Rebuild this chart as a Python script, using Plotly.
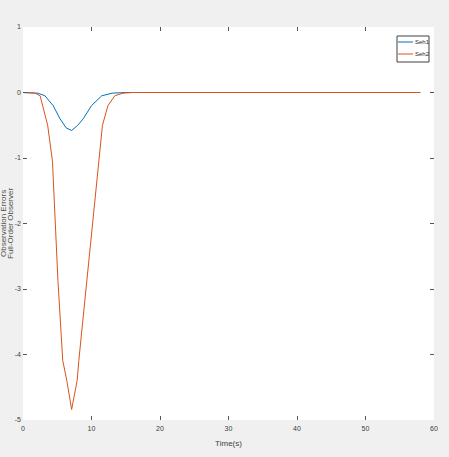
import plotly.graph_objects as go

# Data
t_seh1 = [0, 1, 2.2, 3.2, 4.4, 5.4, 6.3, 7.1, 8.0, 8.8, 10.0, 11.5, 13.0, 15.0, 58.0]
seh1 = [0, 0, -0.01, -0.05, -0.2, -0.4, -0.54, -0.58, -0.5, -0.4, -0.2, -0.05, -0.01, 0, 0]

t_seh2 = [0, 1, 1.75, 2.5, 2.9, 3.6, 4.3, 5.1, 5.8, 6.4, 7.1, 7.9, 8.15, 9.3, 11.0, 11.6, 12.4, 13.4, 14.6, 16.0, 58.0]
seh2 = [0, 0, -0.01, -0.05, -0.2, -0.5, -1.05, -2.87, -4.09, -4.4, -4.84, -4.4, -4.09, -2.87, -1.05, -0.5, -0.2, -0.05, -0.01, 0, 0]

series_names = ["Seh1", "Seh2"]
series_colors = ["#0072BD", "#D95319"]

x_ticks = [0, 10, 20, 30, 40, 50, 60]
y_ticks = [1, 0, -1, -2, -3, -4, -5]

font_family = "Liberation Sans Narrow, Liberation Sans, Arial, sans-serif"
tick_font = dict(family=font_family, size=7, color="#404040")

fig = go.Figure()
fig.add_trace(go.Scatter(x=t_seh1, y=seh1, mode="lines", name=series_names[0],
                         line=dict(color=series_colors[0], width=1), showlegend=False))
fig.add_trace(go.Scatter(x=t_seh2, y=seh2, mode="lines", name=series_names[1],
                         line=dict(color=series_colors[1], width=1), showlegend=False))

# Plot area in pixels: x 23..434, y 27..420
PX0, PX1, PY0, PY1 = 23, 434, 27, 420
def px(x):
    return (x - PX0) / (PX1 - PX0)
def py(y):
    return 1 - (y - PY0) / (PY1 - PY0)

# Compact MATLAB-style legend
shapes = [dict(type="rect", xref="paper", yref="paper",
               x0=px(397), x1=px(429), y0=py(62), y1=py(36),
               line=dict(color="#404040", width=1), fillcolor="white", layer="above")]
annotations = []
for i, (nm, col) in enumerate(zip(series_names, series_colors)):
    yy = 42 + i * 12
    shapes.append(dict(type="line", xref="paper", yref="paper",
                       x0=px(398), x1=px(413), y0=py(yy), y1=py(yy),
                       line=dict(color=col, width=1), layer="above"))
    annotations.append(dict(text=nm, xref="paper", yref="paper", x=px(413), y=py(yy),
                            xanchor="left", yanchor="middle", showarrow=False,
                            font=dict(family=font_family, size=6, color="#262626")))

# Y axis title, two lines
ytitle_font = dict(family="Liberation Sans, Arial, sans-serif", size=8, color="#505050")
annotations.append(dict(text="Observation Errors", xref="paper", yref="paper",
                        x=px(3.5), y=0.5, textangle=-90, showarrow=False,
                        xanchor="center", yanchor="middle", font=ytitle_font))
annotations.append(dict(text="Full-Order Observer", xref="paper", yref="paper",
                        x=px(10.5), y=0.5, textangle=-90, showarrow=False,
                        xanchor="center", yanchor="middle", font=ytitle_font))

fig.update_layout(
    width=449, height=457,
    margin=dict(l=PX0, r=449 - PX1, t=PY0, b=457 - PY1),
    paper_bgcolor="#f0f0f0",
    plot_bgcolor="white",
    showlegend=False,
    shapes=shapes,
    annotations=annotations,
    xaxis=dict(range=[0, 60], tickvals=x_ticks, ticktext=[str(v) for v in x_ticks],
               ticks="inside", ticklen=4, tickcolor="#555555", mirror="ticks",
               showgrid=False, zeroline=False, showline=False, automargin=False,
               tickfont=tick_font, ticklabelstandoff=3,
               title=dict(text="Time(s)", font=dict(family=font_family, size=8, color="#404040"),
                          standoff=9)),
    yaxis=dict(range=[-5, 1], tickvals=y_ticks, ticktext=[str(v) for v in y_ticks],
               ticks="inside", ticklen=4, tickcolor="#555555", mirror="ticks",
               showgrid=False, zeroline=False, showline=False, automargin=False,
               tickfont=tick_font, ticklabelstandoff=1),
)

fig.write_html("out.html")
